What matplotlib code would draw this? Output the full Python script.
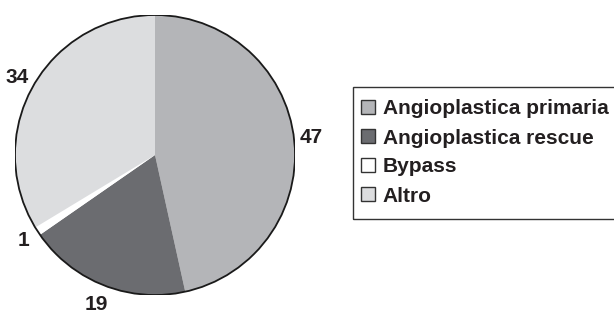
import matplotlib.pyplot as plt
import numpy as np
from matplotlib.patches import Patch, Rectangle, Circle

categories = ["Angioplastica primaria", "Angioplastica rescue", "Bypass", "Altro"]
values = [47, 19, 1, 34]
colors = ["#b4b5b8", "#6b6c70", "#ffffff", "#dcdddf"]
label_dist = [1.12, 1.15, 1.12, 1.13]

plt.rcParams['font.family'] = ['Liberation Sans', 'DejaVu Sans']

fig = plt.figure(figsize=(6.14, 3.15), dpi=100)
# pie centred at (155, 155) px, radius 140 px
ax = fig.add_axes([15 / 614, 20 / 315, 280 / 614, 280 / 315])

wedges, _ = ax.pie(values, colors=colors, startangle=90, counterclock=False,
                   radius=1.0, wedgeprops=dict(linewidth=0))
ax.add_patch(Circle((0, 0), 1.0, fill=False, edgecolor='#1a1a1a', linewidth=1.3))

for w, v, r in zip(wedges, values, label_dist):
    ang = np.deg2rad((w.theta1 + w.theta2) / 2)
    ax.text(r * np.cos(ang), r * np.sin(ang), str(v), ha='center', va='center',
            fontsize=15, fontweight='bold', color='#231f20')

ax.set_xlim(-1, 1)
ax.set_ylim(-1, 1)
ax.set_aspect('equal')
ax.axis('off')

# legend box (open on the right, runs past the figure edge)
fig.patches.append(Rectangle((353 / 614, (315 - 219) / 315), 0.5, 132 / 315,
                             transform=fig.transFigure, fill=False,
                             edgecolor='#333333', linewidth=1.0))

handles = [Patch(facecolor=c, edgecolor='#333333', linewidth=1.0) for c in colors]
leg = fig.legend(handles, categories, loc='upper left',
                 bbox_to_anchor=(361 / 614, (315 - 99.5) / 315),
                 frameon=False, borderpad=0, borderaxespad=0,
                 handlelength=0.65, handleheight=0.65, handletextpad=0.4,
                 labelspacing=0.48, prop=dict(size=15, weight='bold'))
for t in leg.get_texts():
    t.set_color('#231f20')

fig.savefig('out.png', dpi=100)
